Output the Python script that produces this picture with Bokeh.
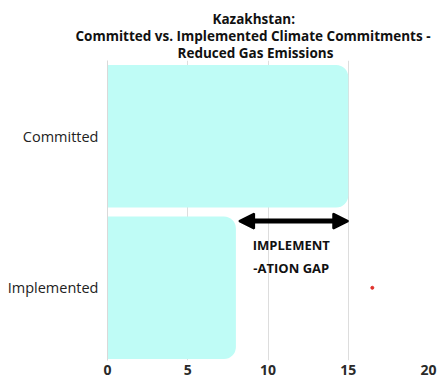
from bokeh.plotting import figure
from bokeh.models import Range1d, Arrow, NormalHead, Title, FixedTicker, ColumnDataSource, Label
from bokeh.embed import file_html
from bokeh.resources import INLINE

categories = ["Implemented", "Committed"]
values = [8, 15]
gap_label = "IMPLEMENT\n-ATION GAP"
x_ticks = [0, 5, 10, 15, 20]
dot_x = [16.5]
dot_cat = ["Implemented"]
title_lines = ["Kazakhstan:",
               "Committed vs. Implemented Climate Commitments -",
               "Reduced Gas Emissions"]
title_offsets = [105, -32, 70]

FONT = "Open Sans"
pos = list(range(len(categories)))

p = figure(width=445, height=383, output_backend="svg", toolbar_location=None,
           x_range=Range1d(0, 20), y_range=Range1d(-0.48, 1.5),
           min_border_left=107, min_border_right=17, min_border_top=60, min_border_bottom=23)
p.outline_line_color = None
p.background_fill_color = "white"
p.title = None

src = ColumnDataSource(dict(y=pos, right=values))
p.hbar(y="y", left=0, right="right", height=0.94, source=src,
       fill_color="#BFFCF6", line_color=None, border_radius=(0, 12, 12, 0))

arrow_y = pos[0] + 0.44
p.add_layout(Arrow(x_start=values[0] + 0.2, x_end=values[1], y_start=arrow_y, y_end=arrow_y,
                   line_width=5, line_color="black",
                   start=NormalHead(size=15, fill_color="black", line_color="black", line_width=2),
                   end=NormalHead(size=15, fill_color="black", line_color="black", line_width=2)))
p.add_layout(Label(x=(values[0] + values[1]) / 2 - 0.05, y=arrow_y - 0.1, text=gap_label,
                   text_align="center", text_baseline="top", text_font=FONT,
                   text_font_style="bold", text_font_size="13px", text_color="#111111",
                   text_line_height=1.25))

p.scatter(x=dot_x, y=[categories.index(c) for c in dot_cat], size=3, color="#e0302a")

p.xaxis.ticker = FixedTicker(ticks=x_ticks)
p.xaxis.axis_line_color = None
p.xaxis.major_tick_line_color = None
p.xaxis.minor_tick_line_color = None
p.xaxis.major_tick_out = 0
p.xaxis.major_tick_in = 0
p.xaxis.major_label_standoff = 4
p.xaxis.major_label_text_font = FONT
p.xaxis.major_label_text_font_size = "14px"
p.xaxis.major_label_text_font_style = "bold"
p.xaxis.major_label_text_color = "#2a2a2a"

p.yaxis.ticker = FixedTicker(ticks=pos)
p.yaxis.major_label_overrides = {i: c for i, c in zip(pos, categories)}
p.yaxis.axis_line_color = "#d9d9d9"
p.yaxis.major_tick_line_color = None
p.yaxis.minor_tick_line_color = None
p.yaxis.major_tick_out = 0
p.yaxis.major_tick_in = 0
p.yaxis.major_label_standoff = 9
p.yaxis.major_label_text_font = FONT
p.yaxis.major_label_text_font_size = "14.5px"
p.yaxis.major_label_text_color = "#222222"

p.xgrid.ticker = FixedTicker(ticks=x_ticks)
p.xgrid.grid_line_color = "#dddddd"
p.ygrid.grid_line_color = None

for line, off in reversed(list(zip(title_lines, title_offsets))):
    p.add_layout(Title(text=line, align="left", text_font=FONT, text_font_style="bold",
                       text_font_size="13.5px", text_color="#111111", offset=off,
                       standoff=-3), "above")

open("out.html", "w").write(file_html(p, INLINE))
